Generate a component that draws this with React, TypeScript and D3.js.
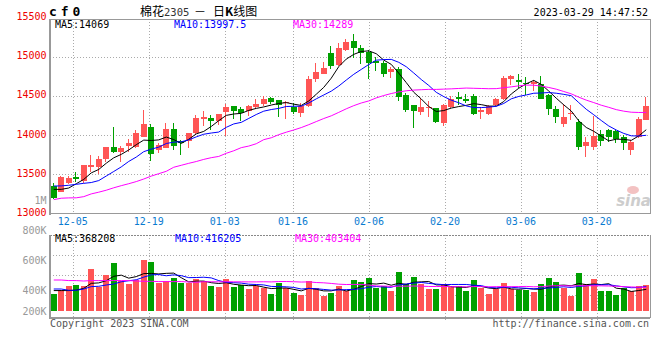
import * as d3 from 'd3';

// trading days shown on the chart (80 sessions, 2022-11-30 .. 2023-03-29)
const dates = [
  '11-30', '12-01', '12-02', '12-05', '12-06', '12-07', '12-08', '12-09',
  '12-12', '12-13', '12-14', '12-15', '12-16', '12-19', '12-20', '12-21', '12-22', '12-23',
  '12-26', '12-27', '12-28', '12-29', '12-30',
  '01-03', '01-04', '01-05', '01-06', '01-09', '01-10', '01-11', '01-12', '01-13',
  '01-16', '01-17', '01-18', '01-19', '01-20', '01-30', '01-31',
  '02-01', '02-02', '02-03', '02-06', '02-07', '02-08', '02-09', '02-10',
  '02-13', '02-14', '02-15', '02-16', '02-17', '02-20', '02-21', '02-22', '02-23', '02-24', '02-27', '02-28',
  '03-01', '03-02', '03-03', '03-06', '03-07', '03-08', '03-09', '03-10',
  '03-13', '03-14', '03-15', '03-16', '03-17', '03-20', '03-21', '03-22', '03-23', '03-24', '03-27', '03-28', '03-29',
];

const open = [
  13350, 13280, 13390, 13460, 13420, 13595, 13595, 13690, 13846, 13782,
  13863, 13850, 13980, 14100, 13808, 13840, 14077, 13930, 13927, 14026,
  14200, 14213, 14180, 14294, 14366, 14328, 14306, 14357, 14392, 14468,
  14447, 14404, 14357, 14285, 14370, 14711, 14783, 15051, 14894, 15085,
  15196, 15106, 15060, 14945, 14923, 14804, 14847, 14511, 14379, 14294,
  14349, 14340, 14149, 14357, 14485, 14464, 14498, 14294, 14264, 14379,
  14455, 14712, 14703, 14665, 14653, 14653, 14517, 14335, 14144, 14267,
  14161, 13856, 13843, 14017, 14059, 14047, 13975, 13805, 13975, 14195,
];
const high = [
  13385, 13480, 13480, 13525, 13620, 13745, 13730, 13850, 14100, 13860,
  13945, 14065, 14320, 14140, 13900, 14158, 14158, 13936, 14030, 14256,
  14306, 14251, 14270, 14392, 14375, 14353, 14379, 14455, 14498, 14480,
  14450, 14434, 14404, 14404, 14753, 14923, 14932, 15136, 15179, 15221,
  15285, 15145, 15085, 15000, 14945, 14864, 14868, 14540, 14385, 14468,
  14434, 14345, 14392, 14498, 14549, 14528, 14528, 14362, 14379, 14477,
  14753, 14771, 14780, 14737, 14703, 14754, 14520, 14373, 14394, 14386,
  14203, 13970, 14246, 14059, 14076, 14068, 14004, 13941, 14225, 14492,
];
const low = [
  13180, 13270, 13380, 13400, 13390, 13530, 13510, 13660, 13775, 13660,
  13780, 13840, 13975, 13670, 13775, 13830, 13808, 13750, 13840, 14010,
  14115, 14064, 14128, 13990, 14200, 14180, 14243, 14328, 14370, 14400,
  14234, 14209, 14264, 14234, 14362, 14677, 14775, 14847, 14881, 15072,
  14987, 14911, 14720, 14817, 14740, 14723, 14434, 14294, 14085, 14251,
  14234, 14149, 14115, 14349, 14379, 14404, 14255, 14209, 14251, 14370,
  14447, 14640, 14597, 14513, 14568, 14462, 14258, 14153, 14102, 14195,
  13805, 13716, 13814, 13856, 13911, 13898, 13814, 13742, 13962, 14187,
];
const close = [
  13200, 13470, 13450, 13440, 13615, 13615, 13690, 13846, 13786, 13833,
  13897, 14026, 14140, 13760, 13872, 14077, 13863, 13895, 14026, 14218,
  14234, 14179, 14264, 14362, 14306, 14277, 14366, 14392, 14455, 14426,
  14379, 14421, 14294, 14370, 14711, 14809, 14860, 14881, 15106, 15191,
  15111, 15043, 14923, 14923, 14783, 14838, 14485, 14319, 14306, 14357,
  14357, 14166, 14379, 14464, 14455, 14434, 14275, 14315, 14370, 14455,
  14723, 14758, 14682, 14653, 14674, 14466, 14335, 14225, 14229, 14280,
  13845, 13907, 13983, 13920, 13975, 13953, 13898, 13918, 14203, 14373,
];
const volume = [
  284000, 364000, 420000, 437000, 420000, 709000, 403000, 607000, 811000, 517000,
  454000, 534000, 862000, 828000, 471000, 505000, 556000, 471000, 471000, 539000,
  505000, 420000, 403000, 539000, 403000, 437000, 369000, 420000, 398000, 284000,
  471000, 386000, 301000, 267000, 505000, 386000, 250000, 301000, 425000, 340000,
  522000, 488000, 556000, 386000, 420000, 340000, 658000, 454000, 573000, 454000,
  369000, 369000, 454000, 420000, 420000, 340000, 522000, 386000, 284000, 369000,
  471000, 369000, 352000, 352000, 318000, 454000, 556000, 488000, 386000, 261070,
  648210, 457300, 541900, 336400, 337200, 266204, 385120, 334580, 419310, 435826,
];

// averages for the first days, whose window starts before 11-30
const ma5Head = [13308, 13308, 13325, 13380];
const ma10Head = [13350, 13352, 13360, 13372, 13385, 13395, 13420, 13478, 13536];
const ma30Head = [
  13177, 13195, 13199, 13200, 13215, 13250, 13272, 13297, 13328, 13355,
  13380, 13407, 13440, 13477, 13508, 13538, 13590, 13615, 13640, 13663,
  13690, 13712, 13728, 13768, 13800, 13840, 13860, 13890, 13942,
];
const volMa5Head = [347000, 347000, 347000, 355000];
const volMa10Head = [374000, 374000, 352000, 352000, 374000, 415000, 420000, 442000, 459000];
const volMa30Head = [
  527000, 527000, 517000, 517000, 510000, 517000, 517000, 517000, 517000, 517000,
  517000, 510000, 505000, 505000, 500000, 500000, 500000, 500000, 493000, 488000,
  498000, 497000, 496000, 498000, 496000, 496000, 495000, 495000, 497000,
];

const priceTicks = [13000, 13500, 14000, 14500, 15000, 15500];
const dateTicks = ['12-05', '12-19', '01-03', '01-16', '02-06', '02-20', '03-06', '03-20'];
const volTicks = [1000000, 800000, 600000, 400000, 200000];
const volTickLabels = ['1M', '800K', '600K', '400K', '200K'];

const W = 660;
const H = 360;
const L = 50;
const R = 650;
const priceTop = 19;
const priceBottom = 213.5;
const volTop = 235;
const volBase = 311;
const volBottom = 318;

const UP = '#ff5555';
const DOWN = '#00a000';
const MONO = '"DejaVu Sans Mono", monospace';

function movingAverage(values: number[], n: number, head: number[]) {
  return values.map((_, i) => (i < n - 1 ? head[i] : (d3.sum(values.slice(i - n + 1, i + 1)) / n)));
}
const fmt = (v: number) => String(+v.toFixed(2));

const idx = d3.range(dates.length);
const x = d3.scaleBand<number>().domain(idx).range([L, R]);
const gx = d3.scalePoint<number>().domain(idx).range([L, R]);
const y = d3.scaleLinear().domain([13000, 15500]).range([priceBottom, 17.5]);
const vy = d3.scaleLinear().domain([0, 1300000]).range([volBase, volBase - 1300000 / 17000]);
// sina places the volume labels on their own scale
const vLabelY = d3.scaleLinear().domain([400000, 800000]).range([290.3, 230.3]);

const cx = (i: number) => x(i)! + x.bandwidth() / 2;
const bodyLeft = (i: number) => Math.round(x(i)! + 0.75);

const ma = [
  { label: 'MA5', color: '#000', values: movingAverage(close, 5, ma5Head), tx: 55 },
  { label: 'MA10', color: '#00f', values: movingAverage(close, 10, ma10Head), tx: 174 },
  { label: 'MA30', color: '#f0f', values: movingAverage(close, 30, ma30Head), tx: 293 },
];
const volMa = [
  { label: 'MA5', color: '#000', values: movingAverage(volume, 5, volMa5Head), tx: 55 },
  { label: 'MA10', color: '#00f', values: movingAverage(volume, 10, volMa10Head), tx: 175 },
  { label: 'MA30', color: '#f0f', values: movingAverage(volume, 30, volMa30Head), tx: 295 },
];

const priceLine = d3.line<number>().x((_, i) => cx(i)).y((v) => y(v));
const volLine = d3.line<number>().x((_, i) => cx(i)).y((v) => vy(v));

export default function App() {
  const tickIdx = dateTicks.map((d) => dates.indexOf(d));
  const last = dates.length - 1;
  return (
    <svg
      width={W}
      height={H}
      style={{ position: 'fixed', left: 0, top: 0, background: '#fff' }}
      fontFamily={MONO}
      fontSize={10}
    >
      {/* header */}
      <text x={49} y={16} fontSize={13} fontWeight="bold" letterSpacing={3.9}>cf0</text>
      <text y={15.5} fontFamily='"Noto Sans CJK SC", sans-serif' fontSize={12}>
        <tspan x={140}>棉花</tspan>
        <tspan fontFamily={MONO} fontSize={10.5} fill="#333">2305</tspan>
        <tspan x={194}>－</tspan>
        <tspan x={213}>日</tspan>
        <tspan fontWeight="bold">K</tspan>
        <tspan>线图</tspan>
      </text>
      <text x={648} y={16} textAnchor="end">2023-03-29 14:47:52</text>

      {/* price panel grid */}
      <g stroke="#aaa" strokeDasharray="1,2" shapeRendering="crispEdges">
        {priceTicks.filter((t) => t > 13000 && t < 15500).map((t) => (
          <line key={t} x1={L} x2={R} y1={Math.round(y(t)) + 0.5} y2={Math.round(y(t)) + 0.5} />
        ))}
        {tickIdx.map((i) => (
          <line key={i} x1={Math.round(gx(i)!) + 0.5} x2={Math.round(gx(i)!) + 0.5} y1={priceTop} y2={priceBottom} />
        ))}
        {volTicks.slice(0, 3).map((_, k) => (
          <line key={k} x1={L} x2={R} y1={volTop + 20 * (k + 1) + 0.5} y2={volTop + 20 * (k + 1) + 0.5} />
        ))}
        {tickIdx.map((i) => (
          <line key={'v' + i} x1={Math.round(gx(i)!) + 0.5} x2={Math.round(gx(i)!) + 0.5} y1={volTop} y2={volBottom + 3} />
        ))}
        <line x1={L} x2={R} y1={volTop + 0.5} y2={volTop + 0.5} stroke="#888" strokeDasharray="2,1" />
      </g>

      {/* sina watermark */}
      <ellipse cx={633} cy={190} rx={6} ry={4} fill="#f3c2c2" />
      <text x={651} y={206} textAnchor="end" fontFamily='"DejaVu Sans", sans-serif' fontSize={15} fontWeight="bold" fontStyle="italic" fill="#cdcdcd">sina</text>

      {/* candles */}
      <g shapeRendering="crispEdges">
        {idx.map((i) => {
          const up = close[i] >= open[i];
          const color = up ? UP : DOWN;
          const l = bodyLeft(i);
          const top = y(Math.max(open[i], close[i]));
          const h = Math.max(1, Math.abs(y(open[i]) - y(close[i])));
          return (
            <g key={i} fill={color} stroke={color}>
              <line x1={l + 2.5} x2={l + 2.5} y1={y(high[i])} y2={y(low[i])} />
              <rect x={l} y={top} width={6} height={h} stroke="none" />
            </g>
          );
        })}
      </g>

      {/* price moving averages */}
      {ma.map((m) => (
        <path key={m.label} d={priceLine(m.values)!} fill="none" stroke={m.color} strokeWidth={1} />
      ))}

      {/* price panel frame */}
      <g stroke="#999" fill="none" shapeRendering="crispEdges">
        <line x1={L} x2={R} y1={priceTop} y2={priceTop} />
        <line x1={R} x2={R} y1={priceTop} y2={priceBottom} />
        <line x1={L} x2={L} y1={priceTop} y2={priceBottom + 1} strokeWidth={1.5} />
        <line x1={L} x2={R} y1={priceBottom} y2={priceBottom} strokeWidth={1.5} />
      </g>

      {ma.map((m) => (
        <text key={m.label} x={m.tx} y={28} fill={m.color}>{`${m.label}:${fmt(m.values[last])}`}</text>
      ))}

      {/* price axis labels */}
      {priceTicks.map((t) => (
        <text key={t} x={46.5} y={y(t) - 1} dy="0.35em" textAnchor="end" fill="#e00">{t}</text>
      ))}
      {tickIdx.map((i) => (
        <text key={i} x={gx(i)} y={225} textAnchor="middle" fill="#0a7bd0">{dates[i]}</text>
      ))}

      {/* volume bars */}
      <g shapeRendering="crispEdges">
        {idx.map((i) => (
          <rect
            key={i}
            x={bodyLeft(i)}
            y={vy(volume[i])}
            width={6}
            height={vy(0) - vy(volume[i])}
            fill={close[i] >= open[i] ? UP : DOWN}
          />
        ))}
      </g>
      {volMa.map((m) => (
        <path key={m.label} d={volLine(m.values)!} fill="none" stroke={m.color} strokeWidth={1} />
      ))}

      {/* volume frame */}
      <g stroke="#999" fill="none" shapeRendering="crispEdges">
        <line x1={R} x2={R} y1={volTop} y2={volBottom} />
        <line x1={L} x2={L} y1={volTop} y2={volBottom + 1} strokeWidth={1.5} />
        <line x1={L} x2={R} y1={volBottom} y2={volBottom} strokeWidth={1.5} />
      </g>

      {volMa.map((m) => (
        <text key={m.label} x={m.tx} y={242} fill={m.color}>{`${m.label}:${fmt(Math.round(m.values[last]))}`}</text>
      ))}
      {volTicks.map((v, k) => (
        <text key={v} x={46.5} y={Math.min(vLabelY(v), vy(0))} dy="0.35em" textAnchor="end" fill="#999">
          {volTickLabels[k]}
        </text>
      ))}

      {/* footer */}
      <text x={50} y={327} fill="#555">Copyright 2023 SINA.COM</text>
      <text x={649} y={327} textAnchor="end" fill="#555">http://finance.sina.com.cn</text>
    </svg>
  );
}
